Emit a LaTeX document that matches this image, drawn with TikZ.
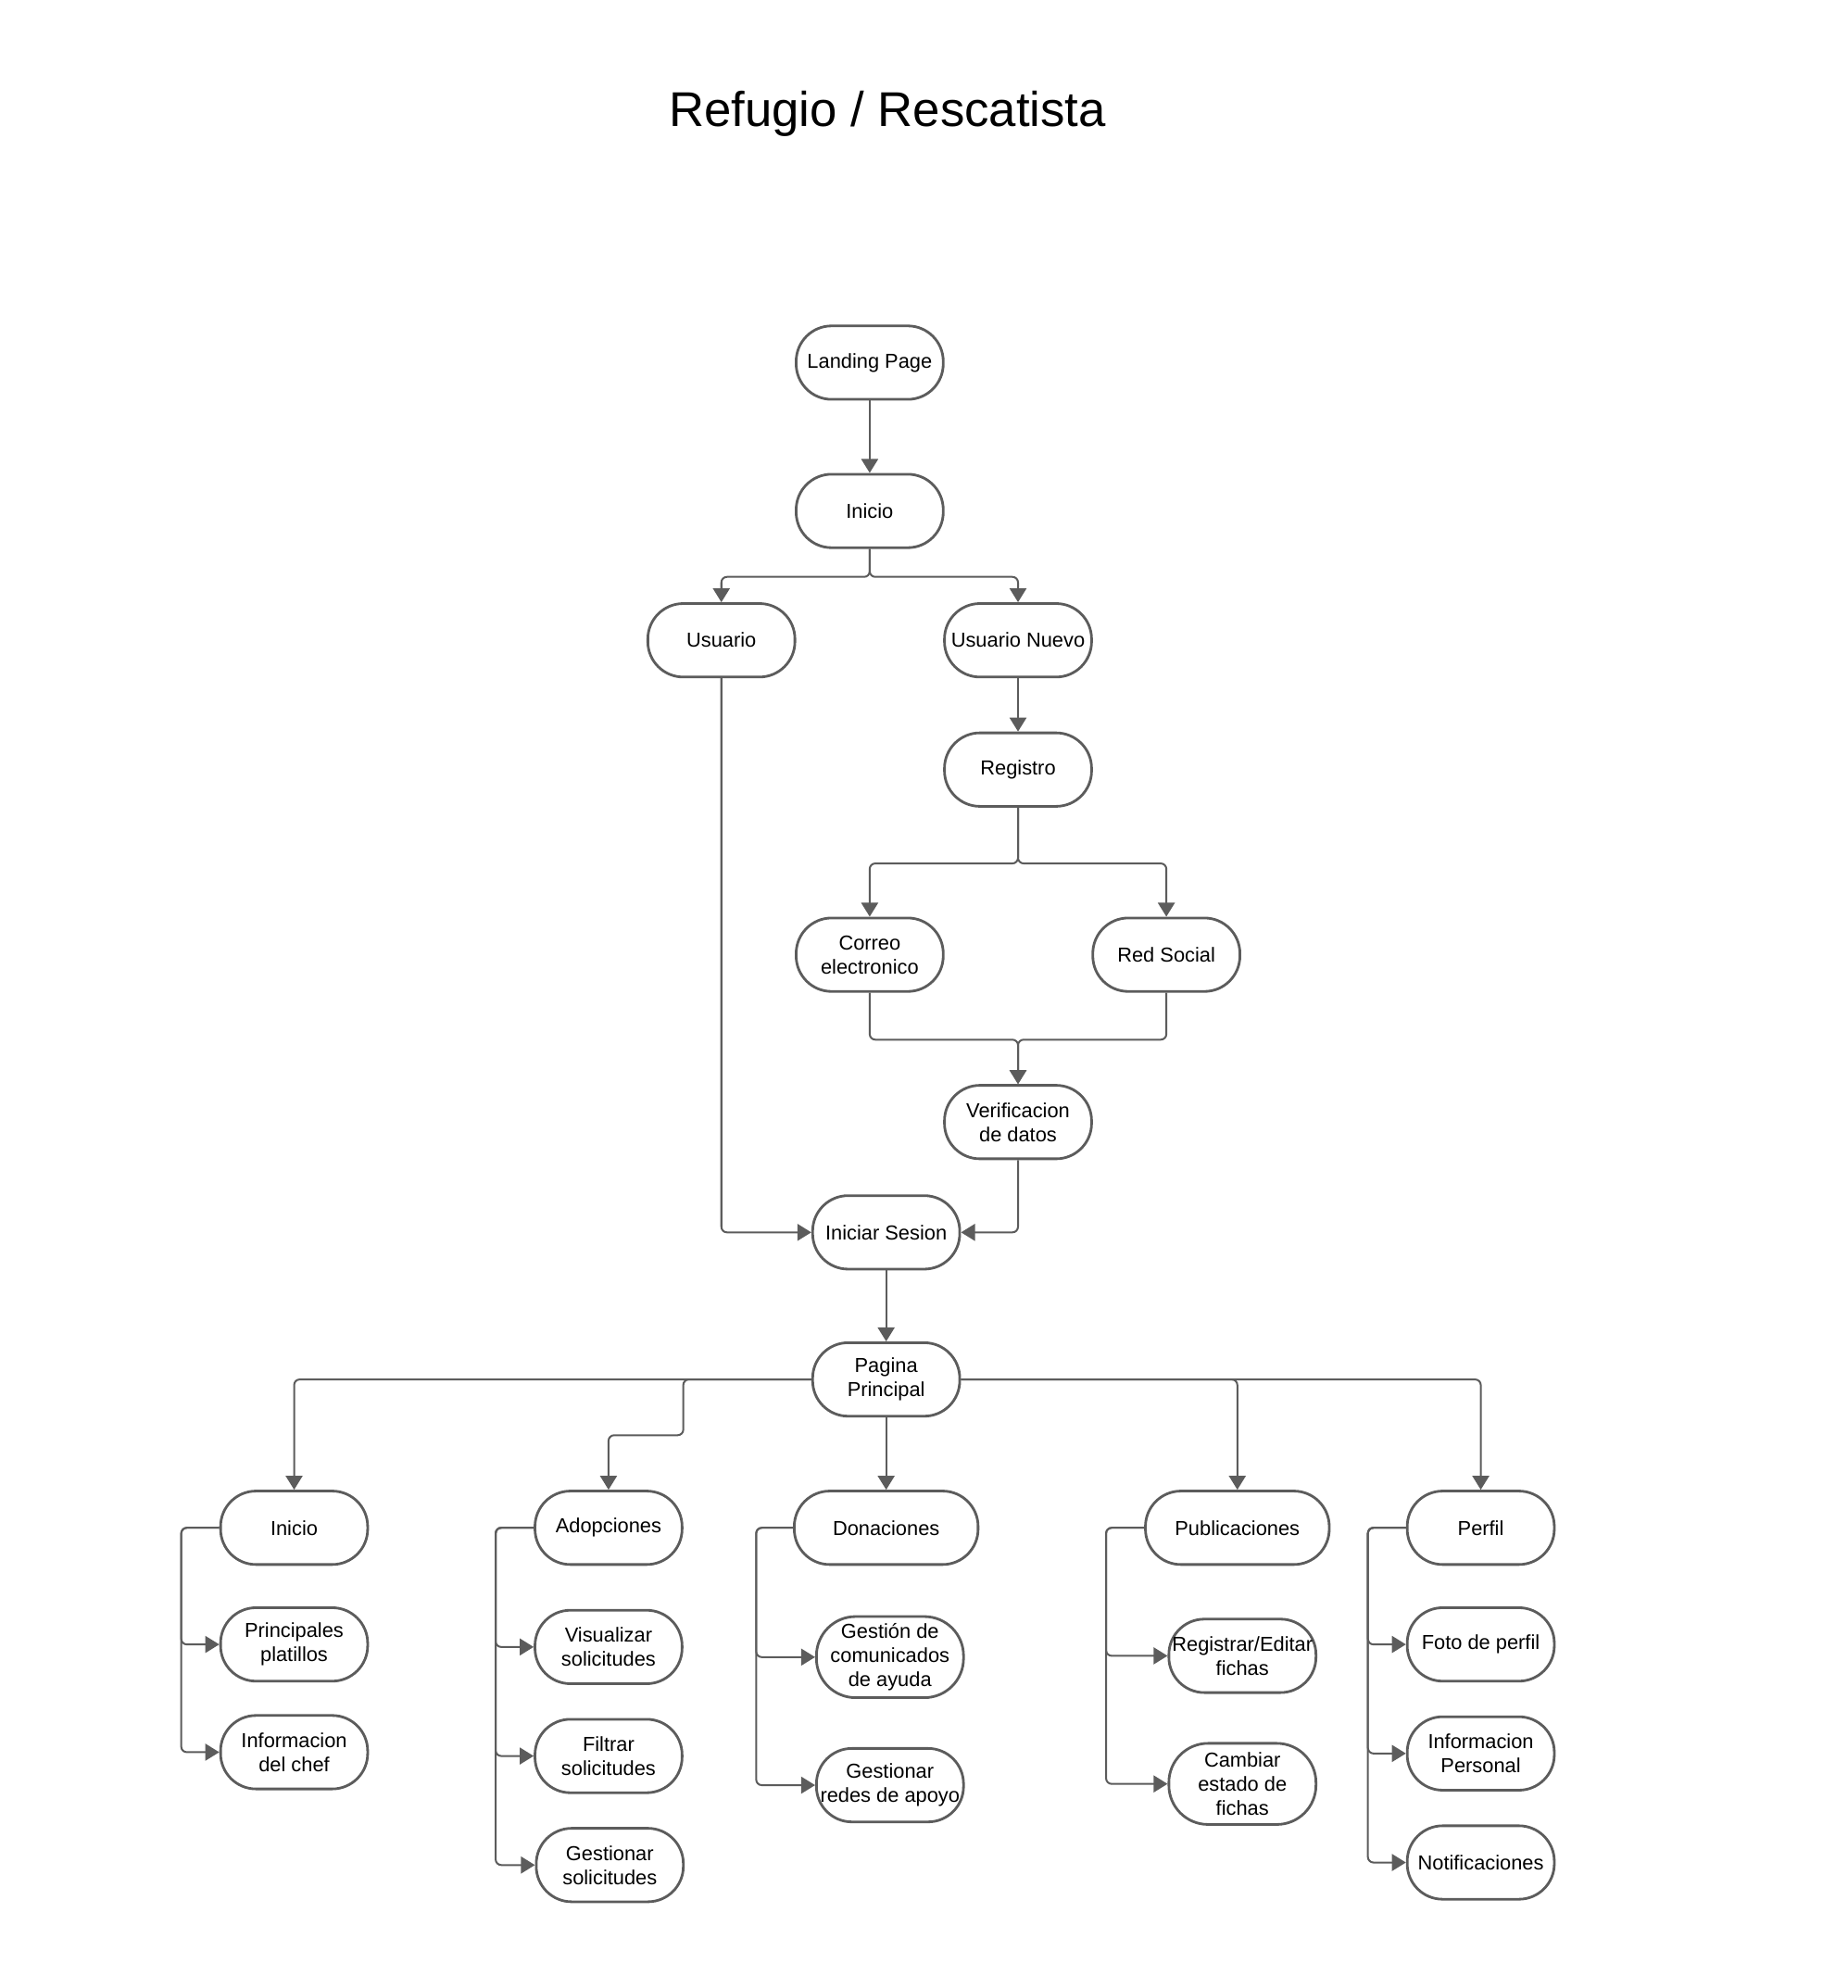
\documentclass[tikz,border=0pt]{standalone}
\usepackage{fontspec}
\setmainfont{Liberation Sans}
\usetikzlibrary{arrows.meta}
\definecolor{lc}{RGB}{92,92,92}
\begin{document}
\begin{tikzpicture}[x=0.68pt,y=-0.68pt,
  box/.style={draw=lc, line width=1.4pt, rounded corners=19pt, minimum width=78.9pt, minimum height=39.4pt, inner sep=0pt, align=center, font=\fontsize{10.85}{12.9}\selectfont, fill=white},
  wide/.style={minimum width=98.6pt},
  tall/.style={minimum height=43.5pt, rounded corners=21pt},
  conn/.style={draw=lc, line width=1pt, rounded corners=3pt, -{Triangle[width=9pt,length=7.5pt]}}]
\useasboundingbox (0,0) rectangle (1457,1568);
\node (title) at (700,90) {\fontsize{26.2}{30}\selectfont Refugio / Rescatista};

\node[box] (lp) at (686,286) {Landing Page};
\node[box] (in1) at (686,403) {Inicio};
\node[box] (usr) at (569,505) {Usuario};
\node[box] (un) at (803,505) {Usuario Nuevo};
\node[box] (reg) at (803,607) {Registro};
\node[box] (cor) at (686,753) {Correo\\electronico};
\node[box] (red) at (920,753) {Red Social};
\node[box] (ver) at (803,885) {Verificacion\\de datos};
\node[box] (is) at (699,972) {Iniciar Sesion};
\node[box] (pp) at (699,1088) {Pagina\\Principal};

\node[box] (i2) at (232,1205) {Inicio};
\node[box] (ad) at (480,1205) {Adopciones};
\node[box,wide] (don) at (699,1205) {Donaciones};
\node[box,wide] (pub) at (976,1205) {Publicaciones};
\node[box] (per) at (1168,1205) {Perfil};

\node[box] (pl) at (232,1297) {Principales\\platillos};
\node[box] (ic) at (232,1382) {Informacion\\del chef};
\node[box] (vs) at (480,1299) {Visualizar\\solicitudes};
\node[box] (fs) at (480,1385) {Filtrar\\solicitudes};
\node[box] (gs) at (481,1471) {Gestionar\\solicitudes};
\node[box,tall] (gc) at (702,1307) {Gestión de\\comunicados\\de ayuda};
\node[box] (gr) at (702,1408) {Gestionar\\redes de apoyo};
\node[box] (re) at (980,1306) {Registrar/Editar\\fichas};
\node[box,tall] (ce) at (980,1407) {Cambiar\\estado de\\fichas};
\node[box] (fp) at (1168,1297) {Foto de perfil};
\node[box] (ip) at (1168,1383) {Informacion\\Personal};
\node[box] (nt) at (1168,1469) {Notificaciones};

\draw[conn] (lp) -- (in1);
\draw[conn] (in1.south) -- ++(0,22) -| (usr.north);
\draw[conn] (in1.south) -- ++(0,22) -| (un.north);
\draw[conn] (usr.south) |- (is.west);
\draw[conn] (un) -- (reg);
\draw[conn] (reg.south) -- ++(0,44) -| (cor.north);
\draw[conn] (reg.south) -- ++(0,44) -| (red.north);
\draw[conn] (cor.south) -- ++(0,37) -| (ver.north);
\draw[conn] (red.south) -- ++(0,37) -| (ver.north);
\draw[conn] (ver.south) |- (is.east);
\draw[conn] (is) -- (pp);
\draw[conn] (pp.west) -| (i2.north);
\draw[conn] (pp.west) -- ++(-101,0) -- ++(0,44) -| (ad.north);
\draw[conn] (pp) -- (don);
\draw[conn] (pp.east) -| (pub.north);
\draw[conn] (pp.east) -| (per.north);

\draw[conn] (i2.west) -- ++(-30,0) |- (pl.west);
\draw[conn] (i2.west) -- ++(-30,0) |- (ic.west);
\draw[conn] (ad.west) -- ++(-30,0) |- (vs.west);
\draw[conn] (ad.west) -- ++(-30,0) |- (fs.west);
\draw[conn] (ad.west) -- ++(-30,0) |- (gs.west);
\draw[conn] (don.west) -- ++(-29,0) |- (gc.west);
\draw[conn] (don.west) -- ++(-29,0) |- (gr.west);
\draw[conn] (pub.west) -- ++(-30,0) |- (re.west);
\draw[conn] (pub.west) -- ++(-30,0) |- (ce.west);
\draw[conn] (per.west) -- ++(-30,0) |- (fp.west);
\draw[conn] (per.west) -- ++(-30,0) |- (ip.west);
\draw[conn] (per.west) -- ++(-30,0) |- (nt.west);
\end{tikzpicture}
\end{document}
